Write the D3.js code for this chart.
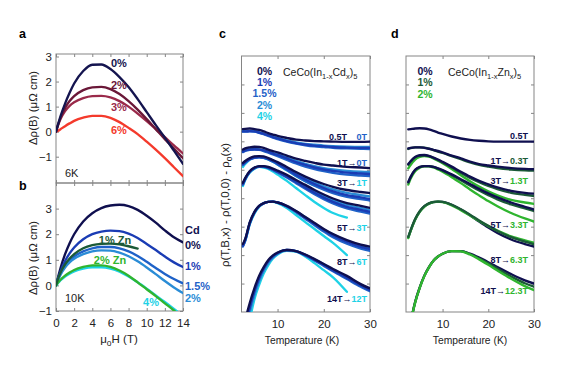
<!DOCTYPE html>
<html><head><meta charset="utf-8">
<script src="https://cdn.jsdelivr.net/npm/d3@7"></script>
<style>body{margin:0;background:#fff}text{font-family:"Liberation Sans",Arial,Helvetica,sans-serif}</style>
</head><body><svg id="fig" width="567" height="378"></svg>
<script>
// ---------- data: panel a (6 K) ----------
const fieldAB = [0,0.25,0.5,1,1.5,2,3,4,5,6,7,8,9,10,11,12,13,14];
const a_0  = [0,0.32,0.62,1.12,1.55,1.92,2.42,2.67,2.68,2.50,2.18,1.78,1.30,0.78,0.26,-0.24,-0.76,-1.28];
const a_2  = [0,0.30,0.55,0.95,1.22,1.42,1.66,1.77,1.79,1.70,1.50,1.22,0.88,0.50,0.10,-0.30,-0.68,-1.06];
const a_3  = [0,0.28,0.50,0.82,1.03,1.17,1.34,1.42,1.43,1.37,1.22,1.00,0.72,0.42,0.10,-0.22,-0.55,-0.87];
const a_6  = [0,0.04,0.10,0.22,0.33,0.43,0.56,0.63,0.63,0.55,0.38,0.15,-0.10,-0.40,-0.72,-1.06,-1.42,-1.78];
// ---------- data: panel b (10 K) ----------
const b_cd0  = [0,0.35,0.68,1.22,1.65,2.00,2.50,2.82,3.02,3.12,3.15,3.10,2.95,2.72,2.45,2.15,1.88,1.68];
const b_cd1  = [0,0.30,0.55,0.95,1.25,1.48,1.80,2.00,2.10,2.14,2.12,2.02,1.85,1.62,1.38,1.13,0.90,0.72];
const b_cd15 = [0,0.25,0.45,0.75,0.97,1.13,1.33,1.45,1.50,1.50,1.45,1.33,1.15,0.92,0.68,0.45,0.25,0.08];
const b_cd2  = [0,0.23,0.42,0.70,0.90,1.04,1.22,1.33,1.37,1.36,1.28,1.14,0.94,0.70,0.44,0.17,-0.08,-0.30];
const b_cd4  = [0,0.10,0.20,0.35,0.46,0.55,0.66,0.71,0.71,0.66,0.54,0.35,0.12,-0.13,-0.39,-0.65,-0.92,-1.20];
const b_zn1  = [0,0.28,0.50,0.82,1.05,1.22,1.45,1.57,1.62,1.63,1.60,1.53,1.44,null,null,null,null,null];
const b_zn2  = [0,0.12,0.22,0.38,0.50,0.60,0.72,0.78,0.78,0.72,0.58,0.38,0.12,-0.15,-0.42,-0.70,-0.98,-1.28];
const tickAB = [0,2,4,6,8,10,12,14];
const tickA_y = [-1,0,1,2,3];
const tickB_y = [-1,0,1,2,3];

// ---------- data: panel c (Cd), offset curves ----------
const temps = [2.5,3,4,5,6,7,8,9,10,12,14,16,18,20,22,25,28,30];
const c05_0  = [6.43,6.44,6.45,6.43,6.40,6.35,6.29,6.24,6.19,6.12,6.06,6.03,6.01,6.00,5.99,5.98,5.98,5.99];
const c05_1  = [6.35,6.35,6.36,6.35,6.31,6.26,6.21,6.15,6.10,6.01,5.94,5.89,5.85,5.83,5.80,5.78,5.77,5.77];
const c05_15 = [6.34,6.34,6.35,6.34,6.30,6.25,6.19,6.13,6.08,5.99,5.92,5.86,5.82,5.80,5.77,5.75,5.74,5.73];
const c05_2  = [6.36,6.36,6.37,6.36,6.32,6.27,6.22,6.17,6.12,6.03,5.96,5.91,5.88,5.85,5.83,5.81,5.80,5.80];
const c1_0   = [5.71,5.75,5.79,5.81,5.80,5.77,5.71,5.66,5.61,5.50,5.39,5.31,5.24,5.18,5.15,5.10,5.08,5.06];
const c1_1   = [5.64,5.68,5.71,5.72,5.71,5.68,5.63,5.57,5.52,5.40,5.27,5.17,5.08,5.01,4.96,4.90,4.87,4.85];
const c1_15  = [5.62,5.66,5.70,5.71,5.70,5.66,5.60,5.54,5.48,5.35,5.22,5.11,5.02,4.95,4.89,4.83,4.80,4.78];
const c1_2   = [5.66,5.70,5.73,5.74,5.72,5.69,5.64,5.59,5.54,5.43,5.31,5.21,5.13,5.06,5.01,4.96,4.93,4.92];
const c3_0   = [5.24,5.31,5.41,5.47,5.48,5.47,5.41,5.34,5.27,5.10,4.92,4.76,4.62,4.50,4.40,4.29,4.22,4.18];
const c3_1   = [5.20,5.27,5.38,5.43,5.45,5.43,5.38,5.31,5.22,5.03,4.83,4.66,4.50,4.36,4.24,4.11,4.03,3.97];
const c3_15  = [5.16,5.24,5.36,5.42,5.44,5.42,5.36,5.28,5.19,4.99,4.78,4.60,4.44,4.30,4.18,4.05,3.97,3.92];
const c3_2   = [5.22,5.29,5.39,5.45,5.46,5.44,5.39,5.32,5.24,5.06,4.87,4.70,4.55,4.42,4.31,4.19,4.11,4.06];
const c3_4   = [5.10,5.20,5.36,5.43,5.45,5.42,5.36,5.28,5.19,4.98,4.78,4.60,4.45,4.33,4.22,4.08,null,null];
const c5_0   = [4.54,4.71,4.96,5.08,5.13,5.13,5.10,5.04,4.97,4.82,4.64,4.47,4.29,4.13,3.99,3.83,3.73,3.66];
const c5_1   = [4.50,4.68,4.93,5.06,5.11,5.11,5.07,5.01,4.93,4.76,4.57,4.38,4.19,4.02,3.87,3.70,3.59,3.52];
const c5_15  = [4.47,4.66,4.92,5.05,5.10,5.10,5.06,4.99,4.91,4.73,4.53,4.33,4.14,3.97,3.82,3.64,3.53,3.46];
const c5_2   = [4.52,4.70,4.94,5.07,5.12,5.12,5.08,5.02,4.95,4.79,4.60,4.42,4.24,4.08,3.93,3.77,3.66,3.59];
const c5_4   = [4.43,4.64,4.90,5.04,5.10,5.08,5.03,4.94,4.83,4.61,4.36,4.11,3.87,3.66,3.48,3.32,null,null];
const c8_0   = [2.39,2.57,3.16,3.52,3.73,3.83,3.87,3.88,3.85,3.73,3.55,3.34,3.13,2.92,2.74,2.53,2.37,2.30];
const c8_1   = [2.33,2.53,3.13,3.50,3.72,3.82,3.87,3.88,3.85,3.72,3.53,3.31,3.09,2.88,2.69,2.46,2.29,2.21];
const c8_15  = [2.30,2.50,3.11,3.49,3.71,3.82,3.87,3.88,3.85,3.71,3.51,3.28,3.05,2.83,2.63,2.40,2.23,2.15];
const c8_2   = [2.35,2.55,3.14,3.51,3.72,3.83,3.87,3.88,3.85,3.72,3.54,3.33,3.11,2.90,2.72,2.50,2.34,2.26];
const c8_4   = [2.32,2.50,3.09,3.46,3.69,3.82,3.87,3.87,3.83,3.66,3.41,3.16,2.92,2.67,2.43,2.00,null,null];
const c14_0  = [-0.90,-0.35,0.32,0.84,1.27,1.58,1.83,1.99,2.09,2.18,2.14,2.02,1.86,1.69,1.51,1.27,0.98,0.83];
const c14_1  = [-1.20,-0.60,0.15,0.72,1.18,1.52,1.78,1.96,2.07,2.18,2.14,2.00,1.83,1.65,1.46,1.20,0.93,0.77];
const c14_15 = [-1.30,-0.70,0.08,0.66,1.13,1.48,1.75,1.94,2.06,2.18,2.13,1.99,1.81,1.62,1.43,1.16,0.89,0.73];
const c14_2  = [-1.40,-0.80,0.00,0.60,1.08,1.45,1.73,1.92,2.05,2.17,2.14,2.01,1.85,1.68,1.49,1.24,0.96,0.80];
const c14_4  = [-2.00,-1.40,-0.30,0.45,0.95,1.35,1.65,1.88,2.02,2.15,2.12,1.95,1.72,1.47,1.22,0.71,null,null];

// ---------- data: panel d (Zn) ----------
const d05_0  = [6.42,6.43,6.45,6.46,6.45,6.42,6.37,6.31,6.26,6.17,6.10,6.05,6.02,6.00,5.99,5.99,5.99,5.99];
const d1_0   = [5.75,5.77,5.79,5.79,5.77,5.74,5.70,5.66,5.61,5.50,5.40,5.29,5.20,5.15,5.11,5.06,5.03,5.02];
const d1_1   = [5.73,5.76,5.79,5.79,5.78,5.74,5.69,5.64,5.59,5.48,5.37,5.26,5.17,5.11,5.06,5.01,4.98,4.97];
const d3_0   = [5.20,5.30,5.45,5.51,5.52,5.49,5.43,5.36,5.28,5.11,4.93,4.76,4.61,4.49,4.38,4.26,4.19,4.16];
const d3_1   = [5.18,5.28,5.44,5.50,5.51,5.48,5.42,5.34,5.26,5.08,4.89,4.71,4.56,4.43,4.32,4.19,4.12,4.08];
const d3_2   = [5.05,5.17,5.36,5.45,5.48,5.46,5.40,5.32,5.23,5.03,4.81,4.60,4.41,4.24,4.10,3.94,3.85,3.80];
const d5_0   = [4.57,4.75,5.00,5.10,5.13,5.13,5.10,5.05,4.99,4.84,4.67,4.50,4.33,4.17,4.03,3.85,3.70,3.60];
const d5_1   = [4.55,4.73,4.99,5.09,5.13,5.13,5.10,5.04,4.97,4.81,4.63,4.45,4.27,4.11,3.96,3.78,3.64,3.55];
const d5_2   = [4.48,4.68,4.95,5.07,5.12,5.12,5.08,5.01,4.93,4.74,4.53,4.31,4.10,3.90,3.72,3.48,3.29,3.18];
const d8_0   = [2.62,2.85,3.25,3.53,3.71,3.81,3.86,3.88,3.87,3.77,3.60,3.40,3.18,2.97,2.78,2.55,2.39,2.30];
const d8_1   = [2.64,2.87,3.27,3.54,3.72,3.82,3.87,3.88,3.87,3.77,3.61,3.42,3.22,3.03,2.85,2.63,2.47,2.38];
const d8_2   = [2.60,2.84,3.24,3.52,3.70,3.81,3.86,3.88,3.86,3.75,3.58,3.39,3.20,3.02,2.86,2.66,2.52,2.44];
const d14_0  = [-0.90,-0.40,0.35,0.86,1.27,1.57,1.80,1.95,2.05,2.14,2.14,2.05,1.91,1.75,1.58,1.33,1.11,1.00];
const d14_1  = [-0.90,-0.40,0.34,0.86,1.27,1.57,1.80,1.95,2.05,2.14,2.14,2.04,1.88,1.71,1.52,1.25,1.01,0.89];
const d14_2  = [-0.90,-0.40,0.33,0.85,1.26,1.56,1.80,1.95,2.05,2.14,2.13,2.02,1.85,1.66,1.46,1.17,0.91,0.77];
const tickT = [10,20,30];
const tickCD_y = [1,2,3,4,5,6,7,8];

// ---------- colours ----------
const navy="#0f0f4f", cd1="#1a3cb4", cd15="#1f62c8", cd2="#2a8cd6", cd4="#1ed2e6";
const zn1="#1b5a37", zn2="#2fb52f";
const aC = {a0:"#14144f", a2:"#6a1838", a3:"#9a2a4a", a6:"#f43a2c"};

const svg = d3.select("#fig");
const gray = "#858585";
const LW = 2.35;

function frame(x, y, xt, yt, opts){
  const [x0,x1]=x.range(), [yb,yt0]=y.range();
  const g = svg.append("g");
  g.append("g").attr("transform",`translate(0,${yb})`)
    .call(d3.axisBottom(x).tickValues(xt).tickSizeInner(-3).tickSizeOuter(0).tickPadding(opts.xlab?8:0)
      .tickFormat(opts.xlab? d3.format("d") : ""));
  g.append("g").attr("transform",`translate(0,${yt0})`)
    .call(d3.axisTop(x).tickValues(xt).tickSizeInner(-3).tickSizeOuter(0).tickFormat(""));
  g.append("g").attr("transform",`translate(${x0},0)`)
    .call(d3.axisLeft(y).tickValues(yt).tickSizeInner(-3).tickSizeOuter(0).tickPadding(4)
      .tickFormat(opts.ylab? d3.format("d") : ""));
  g.append("g").attr("transform",`translate(${x1},0)`)
    .call(d3.axisRight(y).tickValues(yt).tickSizeInner(-3).tickSizeOuter(0).tickFormat(""));
  g.selectAll(".domain").remove();
  g.selectAll(".tick line").attr("stroke",gray);
  g.selectAll(".tick text").attr("fill","#222").attr("font-size",opts.fs||11.5)
    .attr("font-family",'"Liberation Sans",Arial,sans-serif');
  g.append("rect").attr("x",x0).attr("y",yt0).attr("width",x1-x0).attr("height",yb-yt0)
    .attr("fill","none").attr("stroke",gray).attr("stroke-width",1);
  return g;
}
let clipN=0;
function plotLines(x, y, xs, series){
  const [x0,x1]=x.range(), [yb,yt0]=y.range();
  const id="clip"+(clipN++);
  svg.append("clipPath").attr("id",id).append("rect")
    .attr("x",x0).attr("y",yt0).attr("width",x1-x0).attr("height",yb-yt0);
  const g = svg.append("g").attr("clip-path",`url(#${id})`);
  const line = d3.line().defined(d=>d[1]!==null).x(d=>x(d[0])).y(d=>y(d[1])).curve(d3.curveMonotoneX);
  series.forEach(s=>{
    g.append("path").datum(xs.map((v,i)=>[v,s.v[i]])).attr("d",line)
      .attr("fill","none").attr("stroke",s.c).attr("stroke-width",s.w||LW)
      .attr("stroke-linejoin","round").attr("stroke-linecap","round");
  });
}
function txt(x,y,s,o={}){
  return svg.append("text").attr("x",x).attr("y",y).text(s)
    .attr("font-size",o.fs||11).attr("font-weight",o.b?"bold":"normal")
    .attr("fill",o.c||"#222").attr("text-anchor",o.a||"start");
}

// ---------- panel a ----------
const xa = d3.scaleLinear().domain([0,14]).range([56,183]);
const ya = d3.scaleLinear().domain([-2.05,3.1]).range([183,54]);
frame(xa, ya, tickAB, tickA_y, {ylab:true});
plotLines(xa, ya, fieldAB, [
  {v:a_6,c:aC.a6},{v:a_3,c:aC.a3},{v:a_2,c:aC.a2},{v:a_0,c:aC.a0}]);
txt(111,66.5,"0%",{b:1,c:aC.a0});
txt(111,89,"2%",{b:1,c:aC.a2});
txt(111,111,"3%",{b:1,c:aC.a3});
txt(111,134,"6%",{b:1,c:aC.a6});
txt(65,176.5,"6K",{fs:11});

// ---------- panel b ----------
const xb = d3.scaleLinear().domain([0,14]).range([56,183]);
const yb = d3.scaleLinear().domain([-1,4]).range([311,183]);
frame(xb, yb, tickAB, tickB_y, {ylab:true, xlab:true});
plotLines(xb, yb, fieldAB, [
  {v:b_cd0,c:navy},{v:b_cd1,c:cd1},{v:b_cd15,c:cd15},{v:b_cd2,c:cd2},
  {v:b_cd4,c:cd4},{v:b_zn2,c:zn2},{v:b_zn1,c:zn1}]);
txt(115,244,"1% Zn",{b:1,c:zn1,a:"middle"});
txt(110,264,"2% Zn",{b:1,c:zn2,a:"middle"});
txt(151,305.5,"4%",{b:1,c:cd4,a:"middle"});
txt(65,302,"10K",{fs:11});
txt(185,234,"Cd",{b:1,c:navy});
txt(185,249,"0%",{b:1,c:navy});
txt(185,270,"1%",{b:1,c:cd1});
txt(185,290,"1.5%",{b:1,c:cd15});
txt(185,301.5,"2%",{b:1,c:cd2});

// y titles a, b
function ytitle(x,y){
  svg.append("text").attr("transform",`translate(${x},${y}) rotate(-90)`).attr("text-anchor","middle")
    .attr("font-size",11.5).attr("fill","#222").text("Δρ(B) (μΩ cm)");
}
ytitle(37,108); ytitle(37,258);
const xtB = svg.append("text").attr("x",119).attr("y",343).attr("text-anchor","middle")
  .attr("font-size",11.5).attr("fill","#222");
xtB.append("tspan").text("μ");
xtB.append("tspan").attr("dy",3).attr("font-size",8.5).text("o");
xtB.append("tspan").attr("dy",-3).text("H (T)");

// panel letters
txt(19,37.5,"a",{b:1,fs:12.5,c:"#000"});
txt(19,189.5,"b",{b:1,fs:12.5,c:"#000"});
txt(219,37.5,"c",{b:1,fs:12.5,c:"#000"});
txt(391,37.5,"d",{b:1,fs:12.5,c:"#000"});

// ---------- panel c ----------
const xc = d3.scaleLinear().domain([2.2,30]).range([241.5,370]);
const yc = d3.scaleLinear().domain([0,9]).range([312,56]);
frame(xc, yc, tickT, tickCD_y, {xlab:true, fs:11.5});
plotLines(xc, yc, temps, [
  {v:c05_15,c:cd15},{v:c05_2,c:cd2},{v:c05_1,c:cd1},{v:c05_0,c:navy},
  {v:c1_15,c:cd15},{v:c1_2,c:cd2},{v:c1_1,c:cd1},{v:c1_0,c:navy},
  {v:c3_4,c:cd4},{v:c3_15,c:cd15},{v:c3_2,c:cd2},{v:c3_1,c:cd1},{v:c3_0,c:navy},
  {v:c5_4,c:cd4},{v:c5_15,c:cd15},{v:c5_2,c:cd2},{v:c5_1,c:cd1},{v:c5_0,c:navy},
  {v:c8_4,c:cd4},{v:c8_15,c:cd15},{v:c8_2,c:cd2},{v:c8_1,c:cd1},{v:c8_0,c:navy},
  {v:c14_4,c:cd4},{v:c14_15,c:cd15},{v:c14_2,c:cd2},{v:c14_1,c:cd1},{v:c14_0,c:navy}]);
[["0%",navy,75],["1%",cd1,86],["1.5%",cd15,97],["2%",cd2,108.5],["4%",cd4,120]]
  .forEach(([s,c,y])=>txt(264.5,y,s,{b:1,c,a:"middle",fs:10.5}));
function formula(x,y,el){
  const t = svg.append("text").attr("x",x).attr("y",y).attr("font-size",10.5).attr("fill","#222");
  t.append("tspan").text("CeCo(In");
  t.append("tspan").attr("dy",3).attr("font-size",7.5).text("1-x");
  t.append("tspan").attr("dy",-3).text(el);
  t.append("tspan").attr("dy",3).attr("font-size",7.5).text("x");
  t.append("tspan").attr("dy",-3).text(")");
  t.append("tspan").attr("dy",3).attr("font-size",7.5).text("5");
}
formula(283,76,"Cd");
function fieldLab(xr,y,a,ca,b,cb){
  const t = svg.append("text").attr("x",xr).attr("y",y).attr("text-anchor","end")
    .attr("font-size",9).attr("font-weight","bold");
  t.append("tspan").attr("fill",ca).text(a);
  if(b) t.append("tspan").attr("fill",cb).text(b);
}
fieldLab(347,140,"0.5T",navy);
fieldLab(367,140,"0T",cd15);
fieldLab(367,166,"1T→",navy,"0T",cd15);
fieldLab(367,186,"3T→",navy,"1T",cd4);
fieldLab(367,230.5,"5T→",navy,"3T",cd4);
fieldLab(367,264.5,"8T→",navy,"6T",cd4);
fieldLab(367,301.5,"14T→",navy,"12T",cd4);
svg.append("text").attr("x",302).attr("y",344).attr("text-anchor","middle").attr("font-size",10.3)
  .attr("fill","#222").text("Temperature (K)");
const yt = svg.append("text").attr("transform","translate(229,205) rotate(-90)").attr("text-anchor","middle")
  .attr("font-size",11.5).attr("fill","#222");
yt.append("tspan").text("ρ(T,B,x) - ρ(T,0,0) - ρ");
yt.append("tspan").attr("dy",3).attr("font-size",8.5).text("o");
yt.append("tspan").attr("dy",-3).text("(x)");

// ---------- panel d ----------
const xd = d3.scaleLinear().domain([2,30]).range([406,534]);
const yd = d3.scaleLinear().domain([0,9]).range([312,56]);
frame(xd, yd, tickT, tickCD_y, {xlab:true, fs:11.5});
plotLines(xd, yd, temps, [
  {v:d05_0,c:navy},
  {v:d1_1,c:zn1},{v:d1_0,c:navy},
  {v:d3_2,c:zn2},{v:d3_1,c:zn1},{v:d3_0,c:navy},
  {v:d5_2,c:zn2},{v:d5_1,c:zn1},{v:d5_0,c:navy},
  {v:d8_0,c:navy},{v:d8_2,c:zn2},{v:d8_1,c:zn1},
  {v:d14_0,c:navy},{v:d14_1,c:zn1},{v:d14_2,c:zn2}]);
[["0%",navy,75],["1%",zn1,86],["2%",zn2,97.5]]
  .forEach(([s,c,y])=>txt(425,y,s,{b:1,c,a:"middle",fs:10.5}));
formula(448,76,"Zn");
fieldLab(528,138.5,"0.5T",navy);
fieldLab(528,163.5,"1T→",navy,"0.3T",zn1);
fieldLab(528,183.5,"3T→",navy,"1.3T",zn2);
fieldLab(528,227.5,"5T→",navy,"3.3T",zn2);
fieldLab(528,262.5,"8T→",navy,"6.3T",zn2);
fieldLab(528,293.5,"14T→",navy,"12.3T",zn2);
svg.append("text").attr("x",470).attr("y",344).attr("text-anchor","middle").attr("font-size",10.3)
  .attr("fill","#222").text("Temperature (K)");
</script></body></html>
